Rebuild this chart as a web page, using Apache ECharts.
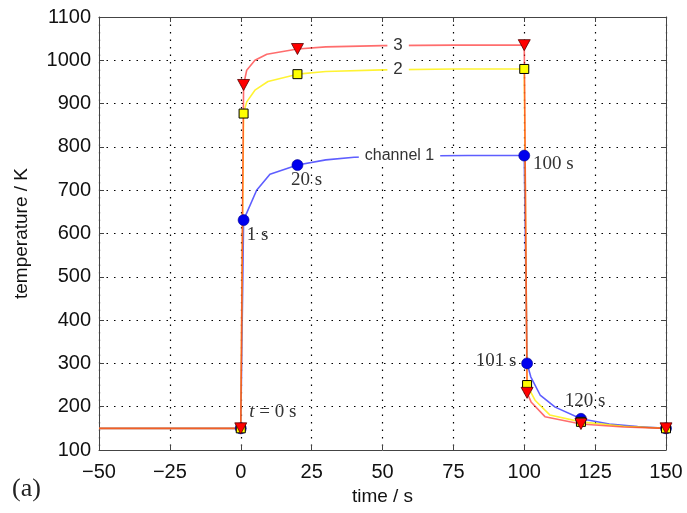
<!DOCTYPE html>
<html>
<head>
<meta charset="utf-8">
<script src="https://cdn.jsdelivr.net/npm/echarts@6/dist/echarts.min.js"></script>
<style>
  html, body { margin: 0; padding: 0; background: #fff; }
  #main { width: 687px; height: 513px; }
</style>
</head>
<body>
<div id="main"></div>
<script>
// values
var xTicks = [-50, -25, 0, 25, 50, 75, 100, 125, 150];
var yTicks = [100, 200, 300, 400, 500, 600, 700, 800, 900, 1000, 1100];

var ch1Time = [-50, 0, 1, 5.6, 10.3, 20, 30, 40, 60, 80, 100, 101, 102.3, 105.6, 110.9, 120, 130, 140, 150];
var ch1Temp = [150, 150, 631, 700, 737, 758, 770, 776, 779, 780, 780, 300, 269, 227, 199, 172, 160, 154, 150];

var ch2Time = [-50, 0, 1, 2.1, 5, 9.6, 20, 30, 50, 75, 100, 101, 103.8, 109, 120, 135, 150];
var ch2Temp = [150, 150, 877, 904, 931, 951, 968, 974, 978, 980, 980, 250, 215, 181, 165, 155, 150];

var ch3Time = [-50, 0, 1, 2.1, 5, 9.2, 20, 30, 50, 75, 100, 101, 102.4, 107.3, 120, 135, 150];
var ch3Temp = [150, 150, 943, 977, 1000, 1014, 1026, 1031, 1034, 1035, 1035, 232, 211, 177, 160, 153, 150];

var markerTimes = [0, 1, 20, 100, 101, 120, 150];
var ch1MarkLabels = ['t = 0 s', '1 s', '20 s', '100 s', '101 s', '120 s', ''];

function pairs(ts, vs) {
  return ts.map(function (t, i) { return [t, vs[i]]; });
}
function markers(ts, vs) {
  return markerTimes.map(function (t) { return [t, vs[ts.indexOf(t)]]; });
}

var chart = echarts.init(document.getElementById('main'));

var tickFont = { fontFamily: 'Liberation Sans', fontSize: 20, color: '#111' };
var serif = { fontFamily: 'Liberation Serif', fontSize: 19, color: '#333' };

// where the serif labels sit around the blue markers (offsets from marker centre)
var labelOffsets = [[32, -16], [14, 15], [9, 15], [29, 8], [-31, -2], [4, -18], [0, 0]];

var ch1Marks = markers(ch1Time, ch1Temp).map(function (p, i) {
  var item = { value: p };
  if (ch1MarkLabels[i]) {
    item.label = {
      show: true,
      position: 'inside',
      offset: labelOffsets[i],
      formatter: i === 0 ? '{i|t} = 0 s' : ch1MarkLabels[i],
      fontFamily: serif.fontFamily,
      fontSize: serif.fontSize,
      color: serif.color,
      rich: { i: { fontFamily: 'Liberation Serif', fontStyle: 'italic', fontSize: 19, color: '#333' } }
    };
  }
  return item;
});

function curveLabel(text, t, v, size) {
  return {
    symbol: 'circle',
    symbolSize: 1,
    silent: true,
    itemStyle: { color: 'rgba(0,0,0,0)' },
    data: [{ coord: [t, v] }],
    label: {
      show: true,
      position: 'inside',
      formatter: text,
      fontFamily: 'Liberation Sans',
      fontSize: size,
      color: '#333',
      backgroundColor: '#fff',
      padding: [1, 6]
    }
  };
}

var axisBase = {
  axisLine: { show: true, onZero: false, lineStyle: { color: '#444', width: 1 } },
  axisTick: { show: true, inside: true, length: 5, lineStyle: { color: '#444' } }
};
var gridLine = { show: true, lineStyle: { color: '#000', type: [1.5, 6], width: 1.2 } };

var option = {
  animation: false,
  backgroundColor: '#fff',
  grid: { left: 99, right: 21, top: 17, bottom: 63 },
  xAxis: [Object.assign({
    type: 'value', min: -50, max: 150, interval: 25,
    name: 'time / s', nameLocation: 'middle', nameGap: 34,
    nameTextStyle: { fontFamily: 'Liberation Sans', fontSize: 19, color: '#111' },
    axisLabel: Object.assign({ margin: 12, formatter: function (v) { return v < 0 ? '\u2212' + (-v) : String(v); } }, tickFont),
    splitLine: gridLine
  }, axisBase), Object.assign({
    type: 'value', min: -50, max: 150, interval: 25, position: 'top',
    axisLabel: { show: false }, splitLine: { show: false }
  }, axisBase)],
  yAxis: [Object.assign({
    type: 'value', min: 100, max: 1100, interval: 100,
    name: 'temperature / K', nameLocation: 'middle', nameGap: 68,
    nameTextStyle: { fontFamily: 'Liberation Sans', fontSize: 19, color: '#111' },
    axisLabel: Object.assign({ margin: 8, formatter: function (v) { return String(v); } }, tickFont),
    splitLine: gridLine
  }, axisBase), Object.assign({
    type: 'value', min: 100, max: 1100, interval: 100, position: 'right',
    axisLabel: { show: false }, splitLine: { show: false }
  }, axisBase)],
  graphic: [{
    type: 'text', left: 12, top: 476,
    style: { text: '(a)', fontFamily: 'Liberation Serif', fontSize: 26, fill: '#222' }
  }],
  series: [
    {
      type: 'line', name: 'channel 1', data: pairs(ch1Time, ch1Temp), symbol: 'none', z: 2,
      lineStyle: { color: 'rgba(40,40,255,0.75)', width: 1.6 },
      markPoint: curveLabel('channel 1', 56, 779, 16)
    },
    {
      type: 'line', name: '2', data: pairs(ch2Time, ch2Temp), symbol: 'none', z: 3,
      lineStyle: { color: 'rgba(255,240,0,0.8)', width: 1.6 },
      markPoint: curveLabel('2', 55.5, 979, 17)
    },
    {
      type: 'line', name: '3', data: pairs(ch3Time, ch3Temp), symbol: 'none', z: 4,
      lineStyle: { color: 'rgba(255,30,30,0.65)', width: 1.6 },
      markPoint: curveLabel('3', 55.5, 1035, 17)
    },
    {
      type: 'scatter', data: ch1Marks, symbol: 'circle', symbolSize: 11, z: 5,
      itemStyle: { color: '#0000ee', borderColor: '#00008a', borderWidth: 0.6, opacity: 1 }
    },
    {
      type: 'scatter', data: markers(ch2Time, ch2Temp), symbol: 'rect', symbolSize: 9, z: 6,
      itemStyle: { color: '#ffff00', borderColor: '#000', borderWidth: 1, opacity: 1 }
    },
    {
      type: 'scatter', data: markers(ch3Time, ch3Temp), symbol: 'triangle', symbolRotate: 180, symbolSize: [12, 11], z: 7,
      itemStyle: { color: '#ff0000', borderColor: '#550000', borderWidth: 0.8, opacity: 1 }
    }
  ]
};

chart.setOption(option);
</script>
</body>
</html>
